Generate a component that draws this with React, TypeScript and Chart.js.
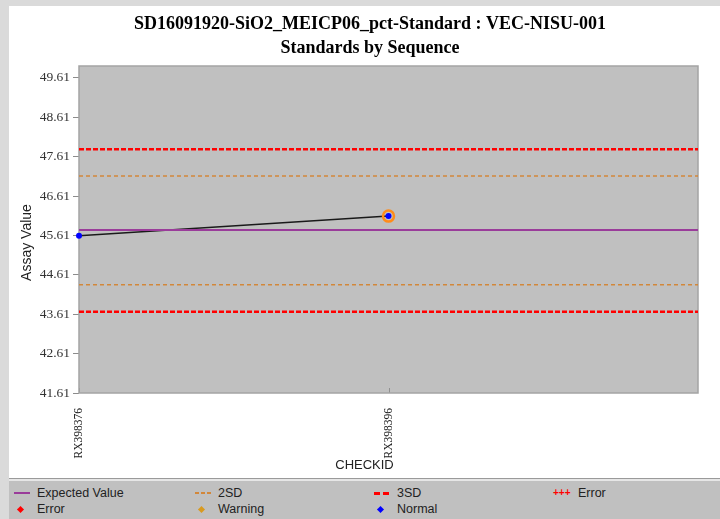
import React, { useEffect, useRef } from "react";
import { Chart, registerables } from "chart.js";

Chart.register(...registerables);

const titleLines = ["SD16091920-SiO2_MEICP06_pct-Standard : VEC-NISU-001", "Standards by Sequence"];
const categories = ["RX398376", "RX398396"];
const assayValues = [45.6, 46.1];
const warningFlags = [false, true];
const expectedValue = 45.745;
const sd2Upper = 47.12;
const sd2Lower = 44.36;
const sd3Upper = 47.8;
const sd3Lower = 43.67;
const yTickValues = [41.61, 42.61, 43.61, 44.61, 45.61, 46.61, 47.61, 48.61, 49.61];
const yMin = 41.61;
const yMax = 49.91;
const yAxisTitle = "Assay Value";
const xAxisTitle = "CHECKID";

const legendRow1 = [
  { label: "Expected Value", icon: "line", color: "#9a3c9a" },
  { label: "2SD", icon: "dash2", color: "#d2873a" },
  { label: "3SD", icon: "dash3", color: "#ff0000" },
  { label: "Error", icon: "plus", color: "#ff0000" },
];
const legendRow2 = [
  { label: "Error", icon: "diamond", color: "#ff0000" },
  { label: "Warning", icon: "diamond", color: "#d89a20" },
  { label: "Normal", icon: "diamond", color: "#0000ff" },
];

const hline = (v: number) => [
  { x: 0, y: v },
  { x: categories.length, y: v },
];

const plotFrame = {
  id: "plotFrame",
  beforeDraw(chart: any) {
    const { ctx, chartArea: a } = chart;
    ctx.save();
    ctx.fillStyle = "#c0c0c0";
    ctx.fillRect(a.left, a.top, a.width, a.height);
    ctx.restore();
  },
  beforeDatasetsDraw(chart: any) {
    const { ctx, chartArea: a } = chart;
    const xs = chart.scales.x;
    ctx.save();
    ctx.strokeStyle = "#909090";
    ctx.lineWidth = 1;
    categories.forEach((_, i) => {
      const px = Math.round(xs.getPixelForValue(i)) + 0.5;
      ctx.beginPath();
      ctx.moveTo(px, a.bottom);
      ctx.lineTo(px, a.bottom - 5);
      ctx.stroke();
    });
    ctx.strokeStyle = "#a4a4a4";
    ctx.lineWidth = 1.5;
    ctx.strokeRect(a.left, a.top, a.width, a.height);
    ctx.restore();
  },
  afterDraw(chart: any) {
    const { ctx, chartArea: a, width } = chart;
    ctx.save();
    ctx.fillStyle = "#222";
    ctx.font = "14px 'Liberation Sans', Arial, sans-serif";
    ctx.textAlign = "center";
    ctx.textBaseline = "middle";
    ctx.translate(18, (a.top + a.bottom) / 2 + 13);
    ctx.rotate(-Math.PI / 2);
    ctx.fillText(yAxisTitle, 0, 0);
    ctx.restore();
    ctx.save();
    ctx.fillStyle = "#222";
    ctx.font = "13px 'Liberation Sans', Arial, sans-serif";
    ctx.textAlign = "center";
    ctx.textBaseline = "middle";
    ctx.fillText(xAxisTitle, width / 2, a.bottom + 72);
    ctx.restore();
  },
};

function LegendIcon({ icon, color }: { icon: string; color: string }) {
  if (icon === "line")
    return <div style={{ width: 16, height: 0, borderTop: `2px solid ${color}` }} />;
  if (icon === "dash2")
    return (
      <div style={{ display: "flex", gap: 2 }}>
        {[0, 1, 2].map((k) => (
          <div key={k} style={{ width: 4, height: 1.5, background: color }} />
        ))}
      </div>
    );
  if (icon === "dash3")
    return (
      <div style={{ display: "flex", gap: 3 }}>
        <div style={{ width: 6, height: 3, background: color }} />
        <div style={{ width: 6, height: 3, background: color }} />
      </div>
    );
  if (icon === "plus")
    return (
      <div style={{ color, fontSize: 10, fontWeight: "bold", letterSpacing: 0, lineHeight: "10px", fontFamily: "'Liberation Sans', Arial, sans-serif" }}>
        +++
      </div>
    );
  return (
    <div style={{ width: 5, height: 5, background: color, transform: "rotate(45deg)", marginLeft: 4 }} />
  );
}

export default function App() {
  const ref = useRef<HTMLCanvasElement>(null);

  useEffect(() => {
    if (!ref.current) return;
    const chart = new Chart(ref.current, {
      type: "line",
      data: {
        datasets: [
          {
            label: "Expected Value",
            data: hline(expectedValue),
            borderColor: "#9a3c9a",
            borderWidth: 2,
            pointRadius: 0,
          },
          {
            label: "2SD+",
            data: hline(sd2Upper),
            borderColor: "#d2873a",
            borderWidth: 1.5,
            borderDash: [4, 3],
            pointRadius: 0,
          },
          {
            label: "2SD-",
            data: hline(sd2Lower),
            borderColor: "#d2873a",
            borderWidth: 1.5,
            borderDash: [4, 3],
            pointRadius: 0,
          },
          {
            label: "3SD+",
            data: hline(sd3Upper),
            borderColor: "#ff0000",
            borderWidth: 2.5,
            borderDash: [5, 2],
            pointRadius: 0,
          },
          {
            label: "3SD-",
            data: hline(sd3Lower),
            borderColor: "#ff0000",
            borderWidth: 2.5,
            borderDash: [5, 2],
            pointRadius: 0,
          },
          {
            label: "Warning",
            data: assayValues.map((v, i) => ({ x: i, y: v })).filter((_, i) => warningFlags[i]),
            showLine: false,
            clip: false,
            pointRadius: 5.5,
            pointBorderWidth: 2.5,
            pointBorderColor: "#ff8c1a",
            pointBackgroundColor: "rgba(0,0,0,0)",
          },
          {
            label: "Assay",
            data: assayValues.map((v, i) => ({ x: i, y: v })),
            clip: false,
            borderColor: "#1a1a1a",
            borderWidth: 1.5,
            pointRadius: 3,
            pointBorderWidth: 0,
            pointBackgroundColor: "#0000ff",
          },
        ],
      },
      options: {
        animation: false,
        responsive: false,
        events: [],
        layout: { padding: { left: 11, right: 0, top: 0, bottom: 0 } },
        plugins: {
          legend: { display: false },
          tooltip: { enabled: false },
          title: {
            display: true,
            text: titleLines,
            color: "#000",
            font: { family: "'Liberation Serif', 'Times New Roman', serif", size: 18, weight: "bold", lineHeight: 24 / 18 },
            padding: { top: 6, bottom: 6 },
          },
        },
        scales: {
          x: {
            type: "linear",
            min: 0,
            max: categories.length,
            grid: { display: false },
            border: { display: false },
            afterBuildTicks: (s: any) => {
              s.ticks = categories.map((_, i) => ({ value: i }));
            },
            afterFit: (s: any) => {
              s.height = 85;
            },
            ticks: {
              autoSkip: false,
              minRotation: 90,
              maxRotation: 90,
              padding: 7,
              color: "#222",
              font: { family: "'Liberation Serif', 'Times New Roman', serif", size: 11.5 },
              callback: (v: any) => categories[v] ?? "",
            },
          },
          y: {
            min: yMin,
            max: yMax,
            border: { display: false },
            grid: { drawOnChartArea: false, drawTicks: true, tickLength: 6, color: "#8c8c8c" },
            afterBuildTicks: (s: any) => {
              s.ticks = yTickValues.map((v) => ({ value: v }));
            },
            afterFit: (s: any) => {
              s.width = 59;
            },
            ticks: {
              padding: 3,
              color: "#333",
              font: { family: "'Liberation Serif', 'Times New Roman', serif", size: 13.5 },
              callback: (v: any) => Number(v).toFixed(2),
            },
          },
          y2: {
            position: "right",
            min: 0,
            max: 1,
            grid: { display: false },
            border: { display: false },
            ticks: { display: false },
            afterFit: (s: any) => {
              s.width = 22;
            },
          },
        },
      },
      plugins: [plotFrame],
    } as any);
    return () => chart.destroy();
  }, []);

  const legendFont = "'Liberation Sans', Arial, sans-serif";
  const colX = [14, 195, 374, 553];
  const textX = [37, 218, 397, 578];

  const renderRow = (items: any[], top: number) =>
    items.map((it, i) => (
      <React.Fragment key={it.label + i}>
        <div style={{ position: "absolute", left: colX[i] - 9, top, height: 16, display: "flex", alignItems: "center" }}>
          <LegendIcon icon={it.icon} color={it.color} />
        </div>
        <div
          style={{
            position: "absolute",
            left: textX[i] - 9,
            top,
            height: 16,
            lineHeight: "16px",
            fontFamily: legendFont,
            fontSize: 12.5,
            color: "#222",
            whiteSpace: "nowrap",
          }}
        >
          {it.label}
        </div>
      </React.Fragment>
    ));

  return (
    <div style={{ position: "fixed", left: 0, top: 0, width: 720, height: 519, background: "#dadada", overflow: "hidden" }}>
      <div style={{ position: "absolute", left: 9, top: 6, width: 711, height: 472, background: "#fff" }}>
        <canvas ref={ref} width={711} height={472} style={{ width: 711, height: 472, display: "block" }} />
      </div>
      <div style={{ position: "absolute", left: 9, top: 478, width: 711, height: 1, background: "#9a9a9a" }} />
      <div style={{ position: "absolute", left: 9, top: 479, width: 711, height: 2, background: "#e6e6e6" }} />
      <div style={{ position: "absolute", left: 9, top: 481, width: 711, height: 38, background: "#c0c0c0" }}>
        {renderRow(legendRow1, 4)}
        {renderRow(legendRow2, 20)}
      </div>
    </div>
  );
}
